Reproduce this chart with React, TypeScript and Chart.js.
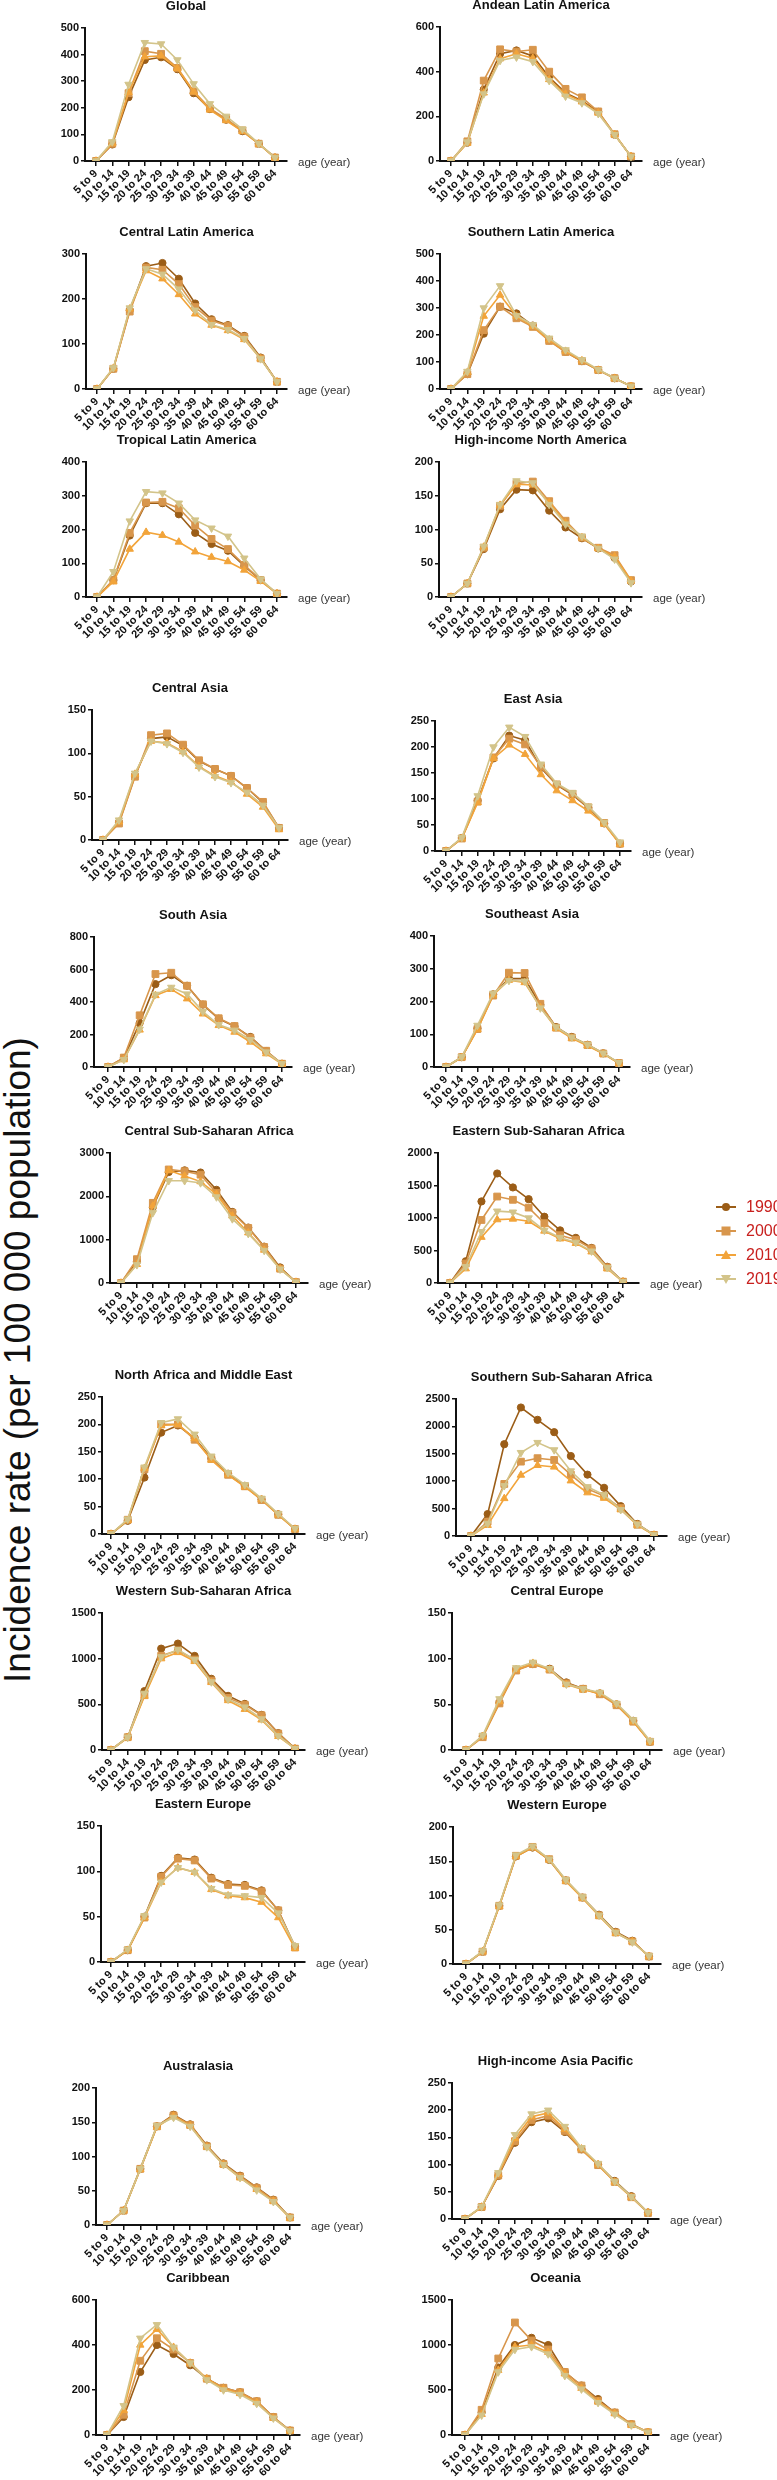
import React, { useEffect, useRef } from "react";
import { Chart, registerables } from "chart.js";

Chart.register(...registerables);

const ageGroups = ["5 to 9", "10 to 14", "15 to 19", "20 to 24", "25 to 29", "30 to 34", "35 to 39", "40 to 44", "45 to 49", "50 to 54", "55 to 59", "60 to 64"];
const years = ["1990", "2000", "2010", "2019"];

// each panel: [1990, 2000, 2010, 2019]
const rateGlobal = [
  [0, 62, 240, 380, 390, 345, 255, 195, 155, 112, 65, 13],
  [0, 65, 255, 413, 403, 350, 262, 198, 158, 115, 65, 13],
  [0, 66, 258, 392, 395, 348, 260, 192, 152, 112, 64, 12],
  [0, 72, 288, 445, 440, 380, 290, 215, 168, 120, 66, 13],
];
const rateAndean = [
  [0, 82, 320, 480, 495, 470, 375, 305, 270, 220, 118, 20],
  [0, 88, 360, 500, 490, 498, 400, 323, 285, 222, 120, 20],
  [0, 80, 305, 458, 480, 460, 365, 300, 265, 215, 118, 20],
  [0, 85, 300, 450, 465, 445, 360, 290, 260, 212, 118, 20],
];
const rateCentralLatAm = [
  [0, 45, 175, 273, 280, 245, 190, 155, 142, 118, 70, 16],
  [0, 45, 172, 270, 265, 233, 182, 152, 140, 116, 68, 16],
  [0, 46, 178, 263, 245, 210, 167, 142, 130, 110, 67, 16],
  [0, 47, 180, 267, 255, 222, 175, 143, 132, 112, 67, 16],
];
const rateSouthernLatAm = [
  [0, 55, 205, 305, 280, 235, 180, 138, 103, 70, 40, 10],
  [0, 55, 218, 305, 262, 230, 178, 137, 103, 70, 40, 10],
  [0, 62, 270, 348, 270, 232, 182, 140, 105, 70, 40, 10],
  [0, 65, 300, 382, 272, 238, 188, 145, 108, 72, 40, 10],
];
const rateTropicalLatAm = [
  [0, 50, 182, 278, 278, 245, 190, 157, 137, 92, 50, 10],
  [0, 50, 190, 280, 282, 263, 212, 172, 142, 95, 50, 10],
  [0, 45, 142, 192, 183, 163, 134, 118, 105, 80, 47, 10],
  [0, 75, 225, 312, 308, 278, 228, 204, 180, 115, 53, 10],
];
const rateHighIncomeNA = [
  [0, 20, 71, 130, 159, 158, 128, 103, 87, 72, 58, 23],
  [0, 20, 73, 135, 168, 171, 142, 113, 88, 73, 62, 25],
  [0, 20, 74, 136, 167, 166, 140, 110, 88, 72, 60, 24],
  [0, 20, 75, 137, 172, 169, 137, 108, 90, 72, 56, 21],
];
const rateCentralAsia = [
  [0, 20, 74, 117, 119, 109, 91, 82, 74, 60, 43, 14],
  [0, 19, 73, 121, 123, 110, 92, 82, 74, 60, 44, 14],
  [0, 21, 76, 114, 112, 102, 85, 74, 67, 53, 38, 12],
  [0, 23, 77, 114, 111, 101, 84, 73, 66, 55, 40, 14],
];
const rateEastAsia = [
  [0, 25, 97, 178, 222, 213, 160, 127, 108, 83, 53, 14],
  [0, 24, 95, 180, 216, 205, 162, 128, 110, 84, 54, 14],
  [0, 24, 93, 178, 204, 186, 147, 116, 97, 77, 52, 13],
  [0, 26, 106, 200, 238, 220, 167, 130, 112, 86, 55, 17],
];
const rateSouthAsia = [
  [0, 55, 270, 510, 565, 500, 384, 297, 250, 185, 98, 20],
  [0, 58, 318, 572, 580, 500, 386, 300, 252, 180, 100, 20],
  [0, 45, 228, 440, 478, 420, 327, 256, 215, 154, 82, 18],
  [0, 45, 232, 447, 490, 449, 341, 260, 226, 168, 92, 20],
];
const rateSoutheastAsia = [
  [0, 30, 118, 222, 270, 270, 190, 122, 92, 68, 42, 12],
  [0, 30, 116, 218, 288, 287, 193, 120, 90, 67, 41, 12],
  [0, 29, 115, 220, 265, 258, 182, 118, 88, 65, 40, 11],
  [0, 31, 127, 225, 264, 262, 180, 122, 91, 69, 42, 13],
];
const rateCentralSSA = [
  [0, 500, 1750, 2560, 2600, 2550, 2150, 1640, 1280, 840, 360, 20],
  [0, 550, 1850, 2620, 2580, 2500, 2080, 1620, 1270, 830, 330, 20],
  [0, 430, 1780, 2600, 2470, 2340, 2050, 1550, 1160, 760, 330, 20],
  [0, 420, 1620, 2360, 2360, 2310, 1985, 1480, 1140, 750, 320, 20],
];
const rateEasternSSA = [
  [0, 335, 1255, 1685, 1470, 1290, 1020, 810, 695, 540, 250, 20],
  [0, 300, 970, 1330, 1280, 1160, 920, 735, 665, 530, 240, 20],
  [0, 220, 705, 975, 985, 950, 800, 680, 610, 480, 220, 18],
  [0, 250, 790, 1105, 1090, 1000, 810, 700, 625, 490, 235, 20],
];
const rateNorthAfricaME = [
  [0, 24, 103, 185, 198, 175, 138, 110, 88, 63, 36, 9],
  [0, 26, 118, 200, 200, 172, 137, 108, 87, 62, 35, 9],
  [0, 25, 120, 198, 200, 174, 135, 108, 86, 63, 35, 9],
  [0, 27, 122, 203, 210, 182, 142, 112, 90, 65, 37, 10],
];
const rateSouthernSSA = [
  [0, 400, 1675, 2345, 2120, 1895, 1460, 1120, 880, 545, 220, 20],
  [0, 260, 950, 1357, 1420, 1387, 1120, 860, 730, 510, 205, 20],
  [0, 196, 685, 1112, 1290, 1260, 1008, 790, 690, 480, 200, 18],
  [0, 230, 917, 1522, 1705, 1571, 1186, 898, 750, 480, 215, 20],
];
const rateWesternSSA = [
  [0, 140, 645, 1110, 1165, 1030, 780, 593, 505, 385, 185, 15],
  [0, 140, 600, 1032, 1090, 990, 760, 570, 495, 380, 180, 15],
  [0, 135, 590, 1000, 1068, 970, 740, 542, 446, 330, 150, 14],
  [0, 140, 620, 1020, 1100, 990, 745, 555, 470, 340, 155, 15],
];
const rateCentralEurope = [
  [0, 15, 52, 88, 94, 89, 74, 67, 62, 50, 32, 9],
  [0, 14, 51, 87, 94, 88, 73, 67, 61, 49, 31, 9],
  [0, 15, 53, 88, 95, 88, 72, 66, 62, 50, 31, 9],
  [0, 16, 56, 90, 96, 89, 72, 67, 63, 51, 33, 10],
];
const rateEasternEurope = [
  [0, 13, 50, 95, 115, 113, 93, 86, 85, 79, 57, 17],
  [0, 13, 49, 94, 114, 112, 92, 85, 84, 78, 57, 16],
  [0, 13, 49, 88, 104, 99, 80, 73, 71, 66, 49, 15],
  [0, 14, 51, 88, 104, 99, 81, 74, 73, 71, 54, 18],
];
const rateWesternEurope = [
  [0, 18, 85, 157, 170, 152, 122, 97, 72, 47, 34, 11],
  [0, 18, 85, 158, 171, 153, 122, 97, 71, 46, 33, 11],
  [0, 18, 84, 157, 170, 152, 121, 96, 70, 45, 33, 11],
  [0, 19, 86, 159, 172, 153, 123, 98, 71, 46, 32, 12],
];
const rateAustralasia = [
  [0, 21, 82, 144, 161, 147, 116, 90, 72, 55, 37, 11],
  [0, 21, 82, 144, 160, 146, 115, 89, 71, 54, 36, 11],
  [0, 21, 81, 143, 159, 145, 114, 88, 69, 52, 35, 10],
  [0, 21, 82, 145, 157, 144, 114, 88, 69, 51, 34, 11],
];
const rateHighIncomeAP = [
  [0, 22, 79, 140, 178, 185, 160, 128, 100, 70, 42, 12],
  [0, 22, 80, 143, 182, 190, 162, 128, 99, 68, 40, 11],
  [0, 22, 82, 148, 188, 195, 165, 129, 100, 68, 40, 12],
  [0, 23, 85, 155, 193, 200, 170, 131, 102, 69, 41, 12],
];
const rateCaribbean = [
  [0, 80, 280, 400, 360, 310, 250, 210, 190, 150, 80, 20],
  [0, 90, 330, 430, 380, 320, 250, 210, 190, 150, 80, 20],
  [0, 110, 400, 470, 390, 320, 250, 205, 185, 145, 75, 18],
  [0, 130, 430, 490, 390, 320, 245, 200, 180, 140, 75, 18],
];
const rateOceania = [
  [0, 250, 750, 1000, 1080, 1000, 700, 550, 400, 250, 120, 30],
  [0, 280, 850, 1250, 1050, 950, 700, 550, 380, 250, 120, 30],
  [0, 230, 720, 980, 1000, 920, 680, 520, 370, 240, 110, 30],
  [0, 220, 700, 950, 980, 900, 660, 510, 360, 230, 110, 30],
];

const panels = [
  { title: "Global", rates: rateGlobal, yMax: 500, yStep: 100 },
  { title: "Andean Latin America", rates: rateAndean, yMax: 600, yStep: 200 },
  { title: "Central Latin America", rates: rateCentralLatAm, yMax: 300, yStep: 100 },
  { title: "Southern Latin America", rates: rateSouthernLatAm, yMax: 500, yStep: 100 },
  { title: "Tropical Latin America", rates: rateTropicalLatAm, yMax: 400, yStep: 100 },
  { title: "High-income North America", rates: rateHighIncomeNA, yMax: 200, yStep: 50 },
  { title: "Central Asia", rates: rateCentralAsia, yMax: 150, yStep: 50 },
  { title: "East Asia", rates: rateEastAsia, yMax: 250, yStep: 50 },
  { title: "South Asia", rates: rateSouthAsia, yMax: 800, yStep: 200 },
  { title: "Southeast Asia", rates: rateSoutheastAsia, yMax: 400, yStep: 100 },
  { title: "Central Sub-Saharan Africa", rates: rateCentralSSA, yMax: 3000, yStep: 1000 },
  { title: "Eastern Sub-Saharan Africa", rates: rateEasternSSA, yMax: 2000, yStep: 500 },
  { title: "North Africa and Middle East", rates: rateNorthAfricaME, yMax: 250, yStep: 50 },
  { title: "Southern Sub-Saharan Africa", rates: rateSouthernSSA, yMax: 2500, yStep: 500 },
  { title: "Western Sub-Saharan Africa", rates: rateWesternSSA, yMax: 1500, yStep: 500 },
  { title: "Central Europe", rates: rateCentralEurope, yMax: 150, yStep: 50 },
  { title: "Eastern Europe", rates: rateEasternEurope, yMax: 150, yStep: 50 },
  { title: "Western Europe", rates: rateWesternEurope, yMax: 200, yStep: 50 },
  { title: "Australasia", rates: rateAustralasia, yMax: 200, yStep: 50 },
  { title: "High-income Asia Pacific", rates: rateHighIncomeAP, yMax: 250, yStep: 50 },
  { title: "Caribbean", rates: rateCaribbean, yMax: 600, yStep: 200 },
  { title: "Oceania", rates: rateOceania, yMax: 1500, yStep: 500 },
];

// layout (pixels): y-axis x, first/last category x, x-axis end, plot top, plot bottom
const boxes = [
  { left: 85, first: 96, last: 275, end: 287, top: 28, bottom: 161 },
  { left: 440, first: 451, last: 631, end: 642, top: 27, bottom: 161 },
  { left: 86, first: 97, last: 277, end: 287, top: 254, bottom: 389 },
  { left: 440, first: 451, last: 631, end: 642, top: 254, bottom: 389 },
  { left: 86, first: 97, last: 277, end: 287, top: 462, bottom: 597 },
  { left: 439, first: 451, last: 631, end: 642, top: 462, bottom: 597 },
  { left: 92, first: 103, last: 279, end: 288, top: 710, bottom: 840 },
  { left: 435, first: 446, last: 620, end: 631, top: 721, bottom: 851 },
  { left: 94, first: 108, last: 282, end: 292, top: 937, bottom: 1067 },
  { left: 434, first: 446, last: 619, end: 630, top: 936, bottom: 1067 },
  { left: 110, first: 121, last: 296, end: 308, top: 1153, bottom: 1283 },
  { left: 438, first: 450, last: 623, end: 639, top: 1153, bottom: 1283 },
  { left: 102, first: 111, last: 295, end: 305, top: 1397, bottom: 1534 },
  { left: 456, first: 471, last: 654, end: 667, top: 1399, bottom: 1536 },
  { left: 102, first: 111, last: 295, end: 305, top: 1613, bottom: 1750 },
  { left: 452, first: 466, last: 650, end: 662, top: 1613, bottom: 1750 },
  { left: 101, first: 111, last: 295, end: 305, top: 1826, bottom: 1962 },
  { left: 453, first: 466, last: 649, end: 661, top: 1827, bottom: 1964 },
  { left: 96, first: 107, last: 290, end: 300, top: 2088, bottom: 2225 },
  { left: 452, first: 465, last: 648, end: 659, top: 2083, bottom: 2219 },
  { left: 96, first: 107, last: 290, end: 300, top: 2300, bottom: 2435 },
  { left: 452, first: 465, last: 648, end: 659, top: 2300, bottom: 2435 },
];

const FONT = '"Liberation Sans", Arial, Helvetica, sans-serif';
const lineColors = ["#9b5d17", "#d8964c", "#f2a43a", "#d3c48a"];
const markers = [
  { pointStyle: "circle", radius: 3.6, rotation: 0 },
  { pointStyle: "rect", radius: 4.8, rotation: 0 },
  { pointStyle: "triangle", radius: 4.3, rotation: 0 },
  { pointStyle: "triangle", radius: 4.3, rotation: 180 },
];

const PAD_L = 50;
const PAD_T = 40;
const PAD_R = 80;
const PAD_B = 52;

const panelTextPlugin = {
  id: "panelText",
  afterDraw(chart: any, _args: any, opts: any) {
    const { ctx, chartArea } = chart;
    ctx.save();
    ctx.fillStyle = "#111";
    ctx.font = `bold 13px ${FONT}`;
    ctx.textAlign = "center";
    ctx.textBaseline = "middle";
    ctx.fillText(opts.title, (chartArea.left + chartArea.right) / 2, chartArea.top - 22);
    ctx.font = `11.5px ${FONT}`;
    ctx.fillStyle = "#333";
    ctx.textAlign = "left";
    ctx.fillText("age (year)", chartArea.right + 11, chartArea.bottom + 2);
    ctx.restore();
  },
};

function Panel({ index }: { index: number }) {
  const ref = useRef<HTMLCanvasElement | null>(null);
  const p = panels[index];
  const b = boxes[index];
  const width = PAD_L + (b.end - b.left) + PAD_R;
  const height = PAD_T + (b.bottom - b.top) + PAD_B;

  useEffect(() => {
    if (!ref.current) return;
    const n = ageGroups.length - 1;
    const unit = (b.last - b.first) / n;
    const xMin = -(b.first - b.left) / unit;
    const xMax = n + (b.end - b.last) / unit;
    const chart = new Chart(ref.current, {
      type: "line",
      data: {
        datasets: p.rates.map((vals, si) => ({
          label: years[si],
          data: vals.map((v, i) => ({ x: i, y: v })),
          borderColor: lineColors[si],
          backgroundColor: lineColors[si],
          borderWidth: 1.6,
          pointStyle: markers[si].pointStyle as any,
          pointRadius: markers[si].radius,
          pointRotation: markers[si].rotation,
          pointBorderWidth: 1,
          tension: 0,
          order: 3 - si,
        })),
      },
      options: {
        responsive: false,
        animation: false,
        devicePixelRatio: 1,
        layout: { padding: { left: 0, top: PAD_T, right: PAD_R, bottom: 0 } },
        plugins: {
          legend: { display: false },
          tooltip: { enabled: false },
          title: { display: false },
          panelText: { title: p.title },
        } as any,
        scales: {
          x: {
            type: "linear",
            min: xMin,
            max: xMax,
            afterBuildTicks: (s: any) => {
              s.ticks = ageGroups.map((_, i) => ({ value: i }));
            },
            afterFit: (s: any) => {
              s.height = PAD_B;
            },
            ticks: {
              autoSkip: false,
              minRotation: 45,
              maxRotation: 45,
              padding: 1,
              color: "#111",
              font: { family: FONT, size: 11, weight: "bold" },
              callback: (v: any) => ageGroups[v as number] ?? "",
            },
            grid: { drawOnChartArea: false, drawTicks: true, tickLength: 5, color: "#111", lineWidth: 1.5 },
            border: { display: true, color: "#111", width: 2 },
          },
          y: {
            type: "linear",
            min: 0,
            max: p.yMax,
            afterFit: (s: any) => {
              s.width = PAD_L;
            },
            ticks: {
              stepSize: p.yStep,
              padding: 2,
              color: "#111",
              font: { family: FONT, size: 11, weight: "bold" },
              callback: (v: any) => String(v),
            },
            grid: { drawOnChartArea: false, drawTicks: true, tickLength: 4, color: "#111", lineWidth: 1.5 },
            border: { display: true, color: "#111", width: 2 },
          },
        },
      },
      plugins: [panelTextPlugin],
    });
    return () => chart.destroy();
  }, [index]);

  return (
    <canvas
      ref={ref}
      width={width}
      height={height}
      style={{ position: "absolute", left: b.left - PAD_L, top: b.top - PAD_T, width, height, display: "block" }}
    />
  );
}

function LegendMarker({ si }: { si: number }) {
  const c = lineColors[si];
  let shape: React.ReactNode = null;
  if (si === 0) shape = <circle cx={10} cy={7} r={4} fill={c} />;
  else if (si === 1) shape = <rect x={5.5} y={2.5} width={9} height={9} fill={c} />;
  else if (si === 2) shape = <polygon points="10,2 15,11 5,11" fill={c} />;
  else shape = <polygon points="5,3 15,3 10,12" fill={c} />;
  return (
    <svg width={20} height={14} style={{ position: "absolute", left: 716, top: -7 }}>
      <line x1={0} x2={20} y1={7} y2={7} stroke={c} strokeWidth={2} />
      {shape}
    </svg>
  );
}

export default function App() {
  const legendY = [1207, 1231, 1255, 1279];
  return (
    <div style={{ position: "absolute", left: 0, top: 0, width: 777, height: 2480, background: "#fff", overflow: "hidden", fontFamily: FONT }}>
      {panels.map((_, i) => (
        <Panel key={i} index={i} />
      ))}
      <div
        style={{
          position: "absolute",
          left: 18,
          top: 1360,
          transform: "translate(-50%, -50%) rotate(-90deg)",
          whiteSpace: "nowrap",
          fontSize: 37,
          lineHeight: "40px",
          color: "#111",
          fontFamily: FONT,
        }}
      >
        Incidence rate (per 100 000 population)
      </div>
      {years.map((y, si) => (
        <div key={y} style={{ position: "absolute", left: 0, top: legendY[si], width: 777, height: 0 }}>
          <LegendMarker si={si} />
          <span
            style={{
              position: "absolute",
              left: 746,
              top: -10,
              fontSize: 16,
              lineHeight: "20px",
              color: "#c8201e",
              fontFamily: FONT,
              whiteSpace: "nowrap",
            }}
          >
            {y}
          </span>
        </div>
      ))}
    </div>
  );
}
